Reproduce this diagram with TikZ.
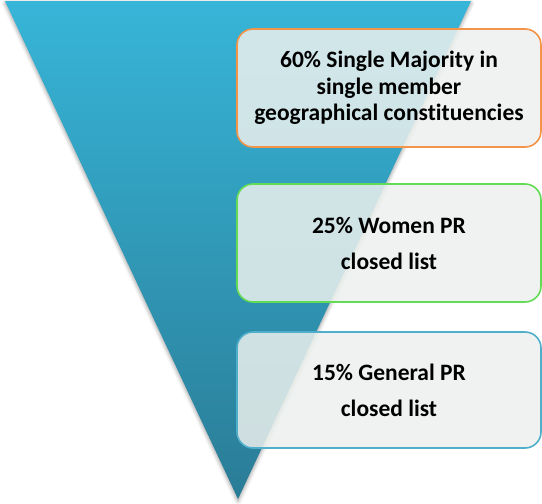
\documentclass[tikz,border=0pt]{standalone}
\usepackage{fontspec}
\setmainfont{Carlito}[Ligatures=NoCommon]
\usetikzlibrary{shadows.blur}
\definecolor{triTop}{HTML}{37B5D8}
\definecolor{triBot}{HTML}{2A7C96}
\definecolor{boxFill}{HTML}{ECF0ED}
\definecolor{bOrange}{HTML}{F39449}
\definecolor{bGreen}{HTML}{62DB55}
\definecolor{bBlue}{HTML}{4FAFCB}
\tikzset{
  tierbox/.style={draw, line width=1.6pt, rounded corners=16pt, fill=boxFill,
    fill opacity=0.85, text opacity=1, minimum width=304pt, align=center,
    font=\bfseries\fontsize{23.5}{26.5}\selectfont, inner sep=0pt},
}
\begin{document}
\begin{tikzpicture}[x=1pt,y=-1pt]
\useasboundingbox (0,0) rectangle (542,504);
% funnel triangle
\path[blur shadow={shadow xshift=0pt, shadow yshift=-2pt, shadow blur radius=4pt, shadow opacity=40},
  top color=triTop, bottom color=triBot]
  (5,1) coordinate (tl) -- (471,1) coordinate (tr) -- (238,499) coordinate (apex) -- cycle;
% boxes
\node[tierbox, draw=bOrange, minimum height=118pt] (b1) at (389,88)
  {60\% Single Majority in\\single member\\geographical constituencies};
\node[tierbox, draw=bGreen, minimum height=118pt, font=\bfseries\fontsize{23.5}{36}\selectfont] (b2) at (389,243)
  {25\% Women PR\\closed list};
\node[tierbox, draw=bBlue, minimum height=116pt, font=\bfseries\fontsize{23.5}{36}\selectfont] (b3) at (389,390)
  {15\% General PR\\closed list};
\end{tikzpicture}
\end{document}
